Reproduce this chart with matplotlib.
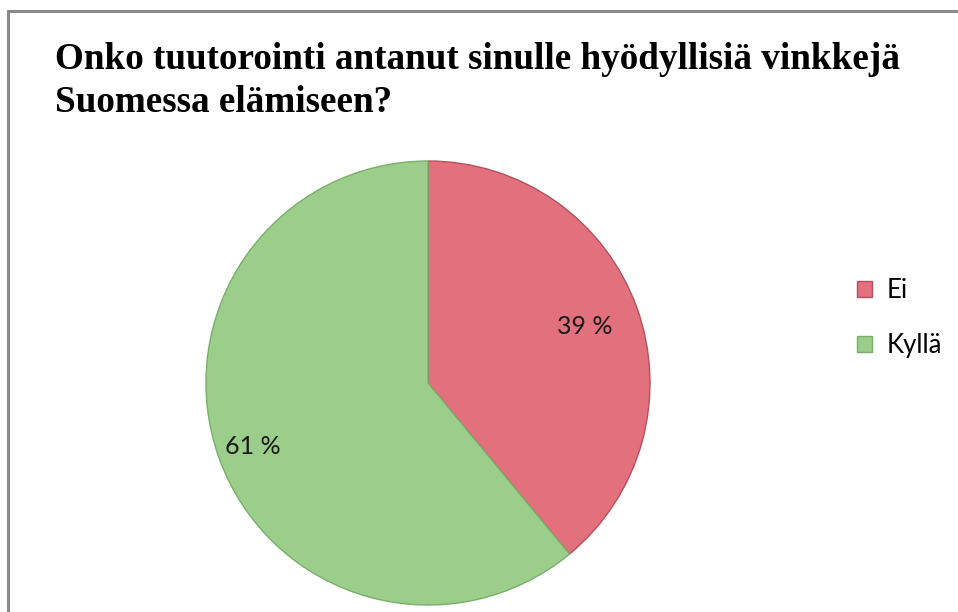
import numpy as np
import matplotlib
matplotlib.use("Agg")
import matplotlib.pyplot as plt
from matplotlib.patches import Rectangle

# Chart data
labels = ["Ei", "Kyllä"]
shares = [39, 61]
colors = ["#E2707D", "#9BCE8A"]
edges = ["#B5505C", "#7AAE6A"]
label_radius = [0.75, 0.84]

title = "Onko tuutorointi antanut sinulle hyödyllisiä vinkkejä\nSuomessa elämiseen?"

W, H = 958, 612
fig = plt.figure(figsize=(W / 100, H / 100), dpi=100)

# gray frame around the chart area (runs off right and bottom edges)
fig.patches.append(Rectangle((7.5 / W, -0.1), 1.2, 1 - 10.5 / H + 0.1,
                             transform=fig.transFigure, fill=False,
                             edgecolor="#8a8a8a", linewidth=2.2))

fig.text(55 / W, 1 - 42 / H, title, ha="left", va="top",
         fontsize=26.7, fontweight="bold", family="Liberation Serif",
         linespacing=1.3)

# pie axes: centre ~(428, 383), radius ~222 px
r_px = 222
cx, cy = 428, 383
ax = fig.add_axes([(cx - r_px) / W, (H - cy - r_px) / H, 2 * r_px / W, 2 * r_px / H])

wedges, texts, autotexts = ax.pie(
    shares, colors=colors, startangle=90, counterclock=False,
    autopct=lambda p: f"{p:.0f} %",
    wedgeprops=dict(linewidth=1.0),
    textprops=dict(fontsize=18, family="Lato", color="#1a1a1a"),
)
for w, ec in zip(wedges, edges):
    w.set_edgecolor(ec)
for w, t, rr in zip(wedges, autotexts, label_radius):
    mid = np.deg2rad((w.theta1 + w.theta2) / 2)
    t.set_position((rr * np.cos(mid), rr * np.sin(mid)))
ax.set_xlim(-1, 1)
ax.set_ylim(-1, 1)
ax.set_aspect("equal")

leg = fig.legend(wedges, labels, loc="center left",
                 bbox_to_anchor=(857 / W, 1 - 318 / H),
                 frameon=False, prop=dict(family="Lato", size=18.5),
                 handlelength=0.6, handleheight=0.6, handletextpad=0.55,
                 labelspacing=1.15, borderaxespad=0, borderpad=0)

fig.savefig("out.png", dpi=100)
